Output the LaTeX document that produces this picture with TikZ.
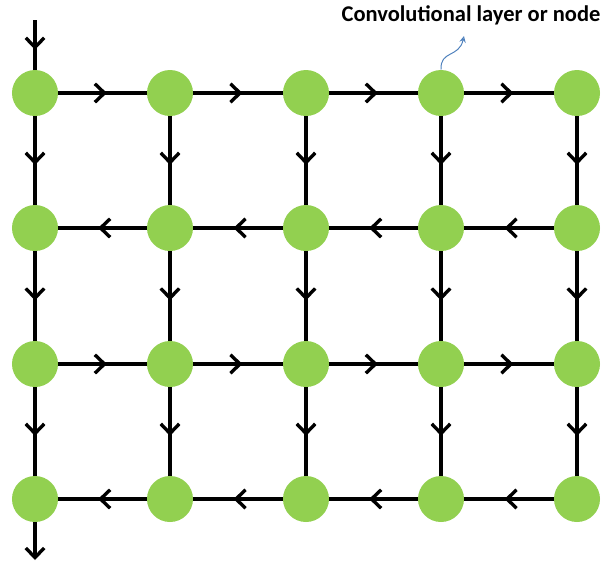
\documentclass[tikz,border=0pt]{standalone}
\usepackage{fontspec}
\setsansfont{Carlito}
\usetikzlibrary{arrows.meta,decorations.markings}
\definecolor{layergreen}{RGB}{146,208,80}
\definecolor{noteblue}{RGB}{79,129,189}
\begin{document}
\begin{tikzpicture}[x=0.025cm, y=-0.025cm,
  layer/.style={circle, fill=layergreen, minimum size=1.15cm, inner sep=0pt},
  flow/.style={line width=2.4pt, postaction={decorate},
               decoration={markings, mark=at position #1 with
               {\arrow{Straight Barb[length=2.4mm, width=4.6mm, line width=2.4pt]}}}},
  flow/.default=0.55,
  note/.style={font=\sffamily\bfseries\fontsize{16}{19}\selectfont},
]
  \useasboundingbox (0,0) rectangle (608,562);

  % grid of layers
  \foreach \r/\y in {1/93,2/228,3/364,4/499}
    \foreach \c/\x in {1/35,2/170,3/306,4/441,5/577}
      \node[layer] (n-\r-\c) at (\x,\y) {};

  % label
  \node[note] (label) at (471,15) {Convolutional layer or node};
  \draw[noteblue, line width=0.7pt, -{Stealth[length=1.6mm, width=1.6mm, open]}]
    (n-1-4.north) .. controls (440,50) and (459,58) .. (464,36);

  % in and out
  \coordinate (in) at (35,20);
  \coordinate (out) at (35,560);
  \draw[flow=0.6] (in) -- (n-1-1);
  \draw[line width=2.4pt, -{Straight Barb[length=2.4mm, width=4.6mm]}] (n-4-1) -- (out);

  % rows, left to right
  \foreach \r in {1,3}
    \foreach \a/\b in {1/2,2/3,3/4,4/5}
      \draw[flow] (n-\r-\a) -- (n-\r-\b);
  % rows, right to left
  \foreach \r in {2,4}
    \foreach \a/\b in {1/2,2/3,3/4,4/5}
      \draw[flow] (n-\r-\b) -- (n-\r-\a);
  % columns, downwards
  \foreach \r/\s in {1/2,2/3,3/4}
    \foreach \c in {1,...,5}
      \draw[flow] (n-\r-\c) -- (n-\s-\c);
\end{tikzpicture}
\end{document}
